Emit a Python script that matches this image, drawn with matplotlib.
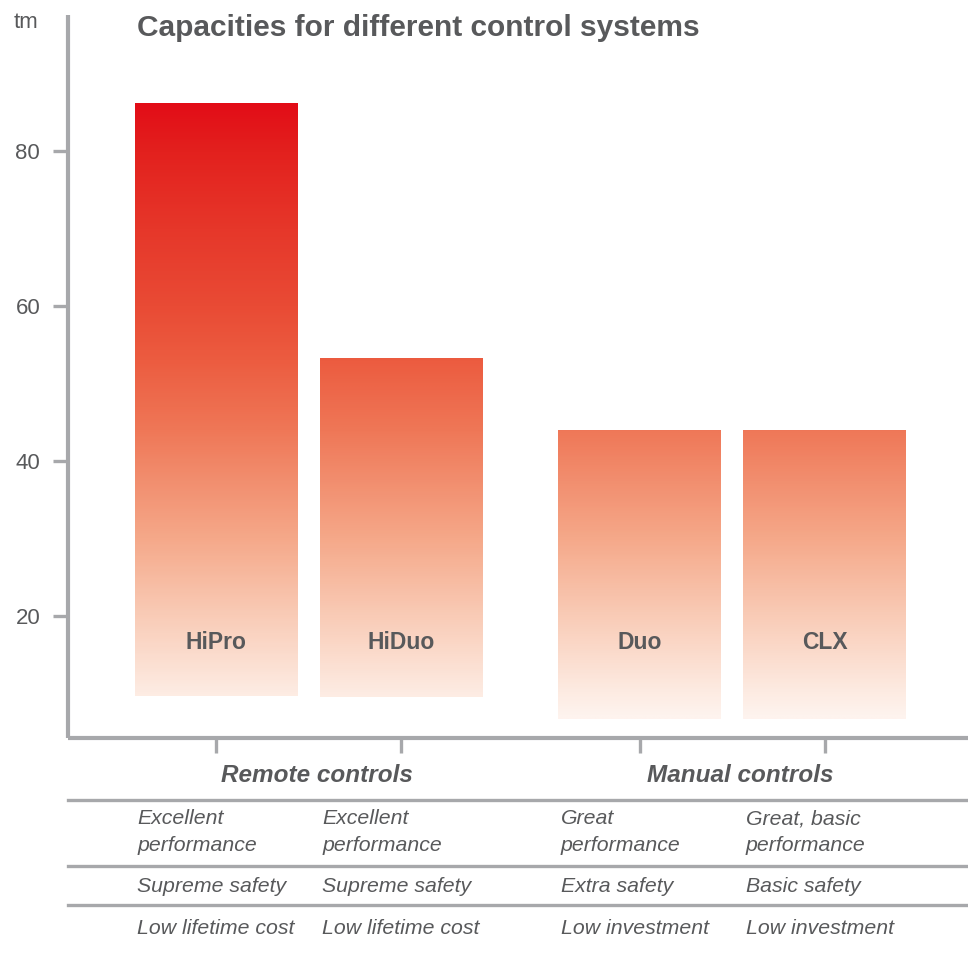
import numpy as np
import matplotlib
matplotlib.use("Agg")
import matplotlib.pyplot as plt
from matplotlib.colors import LinearSegmentedColormap, Normalize
from matplotlib.transforms import blended_transform_factory

plt.rcParams['font.family'] = ['Liberation Sans', 'DejaVu Sans']

# data
systems = ["HiPro", "HiDuo", "Duo", "CLX"]
cap_low = [9.7, 9.6, 6.7, 6.7]
cap_high = [86.1, 53.3, 43.9, 43.9]
groups = ["Remote controls", "Manual controls"]
group_members = [[0, 1], [2, 3]]
table_rows = [
    ["Excellent\nperformance", "Excellent\nperformance", "Great\nperformance", "Great, basic\nperformance"],
    ["Supreme safety", "Supreme safety", "Extra safety", "Basic safety"],
    ["Low lifetime cost", "Low lifetime cost", "Low investment", "Low investment"],
]
yticks = [20, 40, 60, 80]

grey = "#a7a8ab"
txt = "#58595b"

# bar positions: gap between the two groups
pos = np.array([0, 1, 2.29, 3.29])
width = 0.88

stops = [(7, "#fef3ee"), (10, "#fdebe2"), (20, "#f9cbb6"), (30, "#f5a889"),
         (44, "#ef7757"), (53, "#ec5c40"), (60, "#e94b35"), (70, "#e6372a"),
         (80, "#e3211e"), (87, "#e20a16")]
vmin, vmax = stops[0][0], stops[-1][0]
cmap = LinearSegmentedColormap.from_list(
    "capgrad", [((v - vmin) / (vmax - vmin), c) for v, c in stops])
norm = Normalize(vmin, vmax)

fig = plt.figure(figsize=(9.68, 9.66), dpi=100)
ax = fig.add_axes([68 / 968, 1 - 738 / 966, 1 - 68 / 968, (738 - 15) / 966])

for i, name in enumerate(systems):
    lo, hi = cap_low[i], cap_high[i]
    grad = np.linspace(lo, hi, 300).reshape(-1, 1)
    ax.imshow(grad, cmap=cmap, norm=norm, origin="lower", aspect="auto",
              extent=(pos[i] - width / 2, pos[i] + width / 2, lo, hi),
              interpolation="bilinear", zorder=2)
    ax.text(pos[i], 16.6, name, ha="center", va="center", fontsize=16.5,
            fontweight="bold", color=txt, zorder=3)

ax.set_xlim(-0.8, 4.065)
ax.set_ylim(4.26, 97.5)

for s in ["top", "right"]:
    ax.spines[s].set_visible(False)
for s in ["left", "bottom"]:
    ax.spines[s].set_color(grey)
    ax.spines[s].set_linewidth(3)
    ax.spines[s].set_capstyle("butt")

ax.set_yticks(yticks)
ax.set_xticks(pos)
ax.set_xticklabels([])
ax.tick_params(axis="both", direction="out", length=11, width=2.4, color=grey)
ax.tick_params(axis="y", labelsize=16, labelcolor=txt, pad=9)

fig.text(38 / 968, 1 - 22 / 966, "tm", ha="right", va="center", fontsize=16, color=txt)
fig.text(137 / 968, 1 - 28 / 966, "Capacities for different control systems",
         ha="left", va="center", fontsize=21.5, fontweight="bold", color=txt)

# table under the chart
tr = blended_transform_factory(ax.transData, fig.transFigure)
for g, members in zip(groups, group_members):
    xc = np.mean(pos[members]) + 0.045
    fig.text(xc, 1 - 776 / 966, g, transform=tr, ha="center", va="center",
             fontsize=17.5, fontweight="bold", style="italic", color=txt)

for ypx in [800, 866, 905]:
    fig.add_artist(plt.Line2D([68 / 968, 1], [1 - ypx / 966] * 2,
                              color=grey, linewidth=2.4, transform=fig.transFigure))

row_y = [832, 887, 929]
for r, row in enumerate(table_rows):
    for i, cell in enumerate(row):
        fig.text(pos[i] - width / 2 + 0.015, 1 - row_y[r] / 966, cell, transform=tr,
                 ha="left", va="center", fontsize=15.3, style="italic", color=txt,
                 linespacing=1.5)

fig.savefig("out.png", dpi=100)
